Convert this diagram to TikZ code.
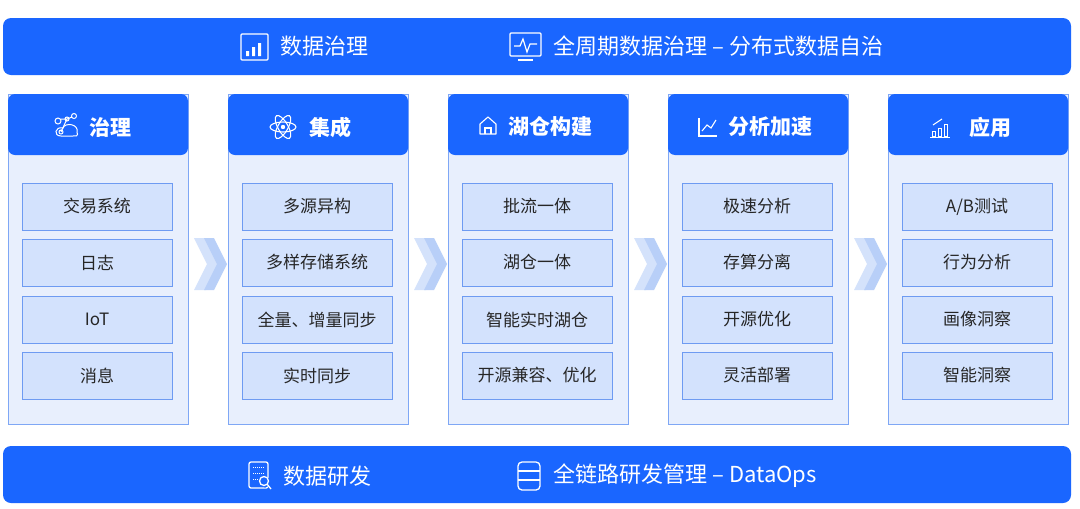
\documentclass[tikz,border=0pt]{standalone}
\usepackage{fontspec}
\setmainfont{Noto Sans CJK SC}
\begin{document}
\begin{tikzpicture}[x=1pt,y=-1pt,
  bar/.style={fill=barblue,rounded corners=8pt},
  colbox/.style={fill=colfill,draw=colborder,line width=0.8pt},
  hdr/.style={fill=barblue,rounded corners=7pt},
  item/.style={draw=itemborder,fill=itemfill,line width=0.9pt,minimum width=150pt,minimum height=47pt,inner sep=0pt,font=\fontsize{17}{17}\selectfont,text=black!85},
  hdrtxt/.style={text=white,font=\bfseries\fontsize{21}{21}\selectfont},
  bartxt/.style={text=white,font=\fontsize{22}{22}\selectfont,anchor=west},
  ico/.style={draw=white,line width=1.3pt},
  chev/.style={fill=chevc,draw=none}]
\definecolor{barblue}{HTML}{1A66FF}
\definecolor{colfill}{HTML}{E8EFFD}
\definecolor{colborder}{HTML}{7FA7F5}
\definecolor{itemfill}{HTML}{D3E2FD}
\definecolor{itemborder}{HTML}{6E9BF2}
\definecolor{chevc}{HTML}{B8CFF8}
\useasboundingbox (0,0) rectangle (1080,509);
\fill[white] (0,0) rectangle (1080,509);
% top bar
\fill[bar] (3,18) rectangle (1071,75);
\draw[ico,rounded corners=1pt] (241,34) rectangle (268,60);
\fill[white] (246,51) rectangle (249,56) (252,47) rectangle (255,56) (258,43) rectangle (261,56);
\node[bartxt] (t1) at (277,46) {数据治理};
\draw[ico,rounded corners=1pt] (510,33) rectangle (541,56);
\draw[white,line width=1.2pt] (514,46) -- (520,46) -- (523,39) -- (527,52) -- (530,44) -- (537,44);
\draw[white,line width=1.2pt] (518,60) -- (533,60);
\node[bartxt] (t2) at (550,46) {全周期数据治理 – 分布式数据自治};
% bottom bar
\fill[bar] (3,446) rectangle (1071,503);
\draw[ico,rounded corners=2pt] (249,462) rectangle (268,488);
\draw[white,line width=1pt,densely dotted] (253,467) -- (264,467) (253,473) -- (264,473) (253,479) -- (258,479);
\fill[barblue] (265,482) circle (5.5pt);
\draw[white,line width=1.3pt] (264,481) circle (4.5pt) (267,484) -- (271,489);
\node[bartxt] (b1) at (280,476) {数据研发};
\draw[ico,rounded corners=4pt] (518,462) rectangle (540,490);
\draw[white,line width=1.2pt] (518,471) -- (540,471) (518,480) -- (540,480);
\node[bartxt] (b2) at (550,476) {全链路研发管理 – DataOps};
% columns
\foreach \i/\x/\t/\a/\b/\c/\d in {
 1/8/治理/交易系统/日志/IoT/消息,
 2/228/集成/多源异构/多样存储系统/全量、增量同步/实时同步,
 3/448/湖仓构建/批流一体/湖仓一体/智能实时湖仓/开源兼容、优化,
 4/668/分析加速/极速分析/存算分离/开源优化/灵活部署,
 5/888/应用/{A/B测试}/行为分析/画像洞察/智能洞察}{
  \draw[colbox] (\x,94) rectangle (\x+180,424);
  \fill[hdr] (\x,94) rectangle (\x+180,155);
  \node[hdrtxt] (h\i) at (\x+102,127) {\t};
  \node[item] (c\i a) at (\x+89,206.5) {\a};
  \node[item] (c\i b) at (\x+89,262.5) {\b};
  \node[item] (c\i c) at (\x+89,319.5) {\c};
  \node[item] (c\i d) at (\x+89,375.5) {\d};
}
% header icons
\draw[ico,line width=1pt] (58,121) circle (3pt) (74,116) circle (2.5pt) (67,119) circle (2pt) (61,132) circle (2pt)
  (61,119) -- (67,119) -- (72,117) (67,119) -- (61,132);
\draw[ico,line width=1pt] (61,136) .. controls (53,136) and (55,126) .. (63,128) .. controls (65,122) and (79,124) .. (77,132) .. controls (79,136) and (75,137) .. (73,136) -- cycle;
\begin{scope}[shift={(283,127)}]
\draw[ico,line width=1.1pt] (0,0) ellipse (13pt and 5pt);
\draw[ico,line width=1.1pt,rotate=60] (0,0) ellipse (13pt and 5pt);
\draw[ico,line width=1.1pt,rotate=-60] (0,0) ellipse (13pt and 5pt);
\fill[white] (0,0) circle (2.2pt);
\end{scope}
\draw[ico,line width=1.1pt,line join=round] (480,134) -- (480,124) -- (488,117) -- (496,124) -- (496,134) -- cycle;
\draw[ico,line width=1.1pt] (485,134) -- (485,128) -- (491,128) -- (491,134);
\draw[ico,line width=1.1pt] (699,118) -- (699,136) -- (717,136);
\draw[ico,line width=1.1pt] (702,131) -- (707,125) -- (711,128) -- (716,120);
\draw[white,line width=1pt] (930,137) -- (950,137);
\draw[ico,line width=0.9pt] (932,131) rectangle (935,136) (938,128) rectangle (941,136) (944,124) rectangle (947,136);
\draw[white,line width=1pt] (933,125) -- (942,119);
% chevrons
\foreach \x in {194,414,634,854}{
  \fill[chevc!60] (\x,238) -- (\x+12,238) -- (\x+25,264) -- (\x+12,290) -- (\x,290) -- (\x+13,264) -- cycle;
  \fill[chevc] (\x+10,238) -- (\x+20,238) -- (\x+33,264) -- (\x+20,290) -- (\x+10,290) -- (\x+23,264) -- cycle;
}
\end{tikzpicture}
\end{document}
